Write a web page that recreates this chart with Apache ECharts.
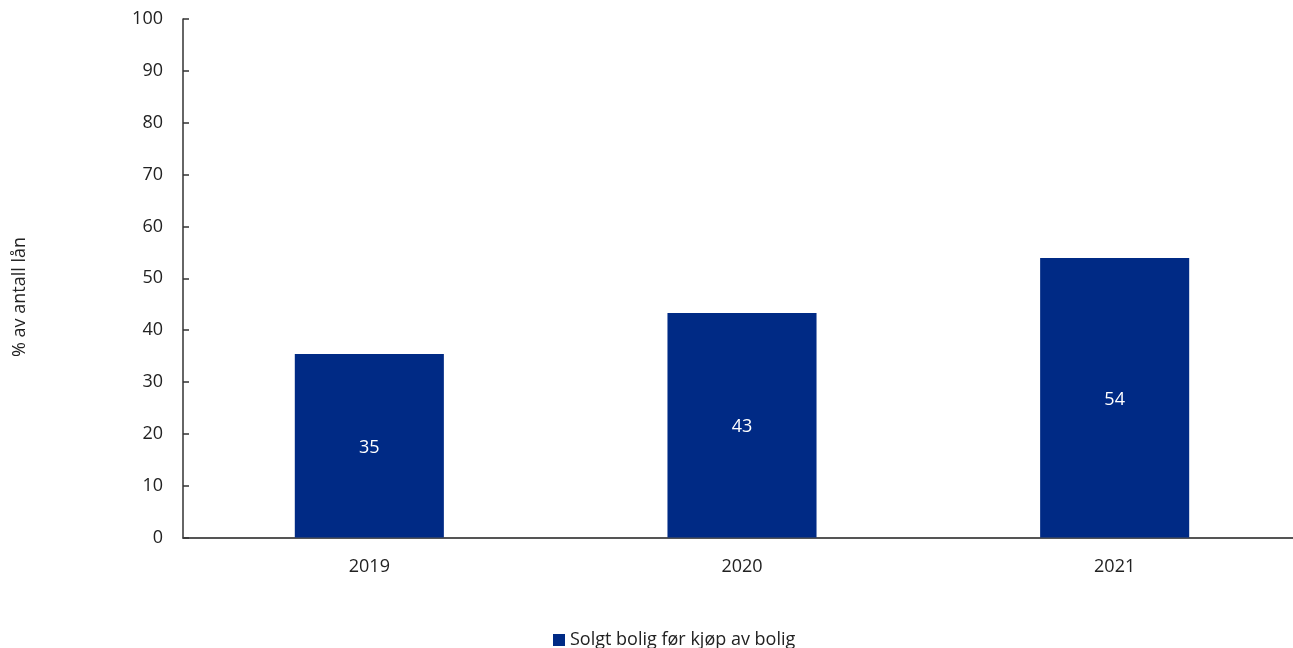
<!DOCTYPE html>
<html>
<head>
<meta charset="utf-8">
<script src="https://cdn.jsdelivr.net/npm/echarts@6/dist/echarts.min.js"></script>
<style>html,body{margin:0;padding:0;background:#fff;}#c{width:1293px;height:648px;}</style>
</head>
<body>
<div id="c"></div>
<script>
const categories = ['2019', '2020', '2021'];
const values = [35.4, 43.3, 53.9];
const yTicks = [0, 10, 20, 30, 40, 50, 60, 70, 80, 90, 100];
const seriesName = 'Solgt bolig før kjøp av bolig';
const yAxisName = '% av antall lån';

const font = '"Open Sans", "Noto Sans", sans-serif';
const chart = echarts.init(document.getElementById('c'));
chart.setOption({
  animation: false,
  textStyle: { fontFamily: font },
  grid: { left: 183, width: 1118, top: 19, bottom: 110.5, containLabel: false, outerBoundsMode: 'none' },
  legend: {
    bottom: -6, left: 548,
    itemWidth: 12, itemHeight: 12, itemGap: 10,
    icon: 'rect',
    textStyle: { fontSize: 18, color: '#222', fontFamily: font, padding: [0, 0, 0, 0] },
    data: [seriesName]
  },
  graphic: [{
    type: 'text', x: 20, y: 297,
    rotation: Math.PI / 2,
    style: { text: yAxisName, fontSize: 18, fill: '#222', fontFamily: font,
      align: 'center', verticalAlign: 'middle' }
  }],
  xAxis: {
    type: 'category', data: categories,
    axisLine: { lineStyle: { color: '#555', width: 2 } },
    axisTick: { inside: true, length: 6, lineStyle: { color: '#222', width: 2 } },
    axisLabel: { fontSize: 18, color: '#222', margin: 20, fontFamily: font }
  },
  yAxis: {
    type: 'value', min: yTicks[0], max: yTicks[yTicks.length - 1], interval: 10,
    axisLine: { show: true, lineStyle: { color: '#333', width: 1.5 } },
    axisTick: { show: true, inside: true, length: 6, lineStyle: { color: '#333', width: 1.5 } },
    axisLabel: { fontSize: 18, color: '#222', margin: 20, fontFamily: font },
    splitLine: { show: false }
  },
  series: [{
    name: seriesName, type: 'bar', data: values,
    barWidth: '40%',
    itemStyle: { color: '#002a85' },
    label: { show: true, position: 'inside', offset: [0, 2], color: '#fff', fontSize: 18, fontFamily: font,
      formatter: p => Math.round(p.value) }
  }]
});
</script>
</body>
</html>
